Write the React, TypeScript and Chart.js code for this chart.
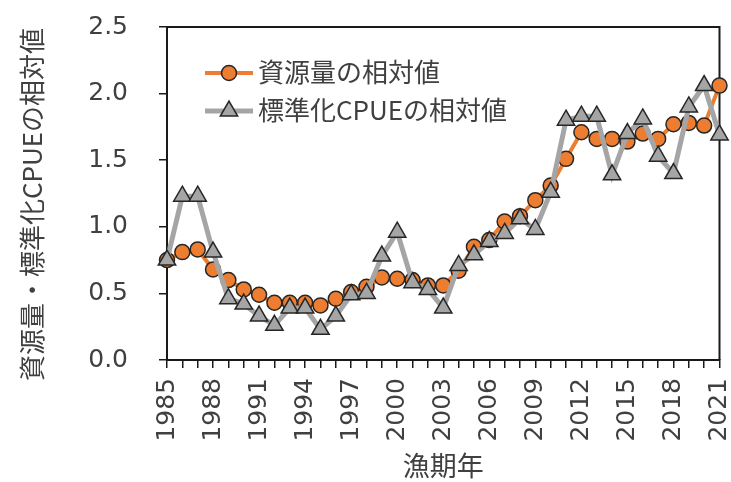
import React, { useEffect, useRef } from "react";
import { Chart, registerables } from "chart.js";

Chart.register(...registerables);

// ---- data ----
const years = [
  "1985", "1986", "1987", "1988", "1989", "1990", "1991", "1992", "1993", "1994",
  "1995", "1996", "1997", "1998", "1999", "2000", "2001", "2002", "2003", "2004",
  "2005", "2006", "2007", "2008", "2009", "2010", "2011", "2012", "2013", "2014",
  "2015", "2016", "2017", "2018", "2019", "2020", "2021",
];

const stockRelative = [
  0.75, 0.81, 0.83, 0.68, 0.60, 0.53, 0.49, 0.43, 0.43, 0.43,
  0.41, 0.46, 0.51, 0.55, 0.62, 0.61, 0.60, 0.56, 0.56, 0.67,
  0.85, 0.90, 1.04, 1.08, 1.20, 1.31, 1.51, 1.71, 1.66, 1.66,
  1.64, 1.70, 1.66, 1.77, 1.78, 1.76, 2.06,
];

const cpueRelative = [
  0.75, 1.23, 1.23, 0.81, 0.46, 0.42, 0.33, 0.26, 0.39, 0.39,
  0.23, 0.33, 0.49, 0.50, 0.78, 0.96, 0.58, 0.53, 0.39, 0.71,
  0.79, 0.89, 0.95, 1.06, 0.98, 1.26, 1.80, 1.83, 1.83, 1.39,
  1.70, 1.81, 1.53, 1.40, 1.90, 2.06, 1.69,
];

const seriesNames = ["資源量の相対値", "標準化CPUEの相対値"];
const xTitle = "漁期年";
const yTitle = "資源量・標準化CPUEの相対値";
const yMin = 0;
const yMax = 2.5;
const yStep = 0.5;
const xLabelEvery = 3;

// ---- styles ----
const TEXT = "#404040";
const AXIS = "#1a1a1a";
const ORANGE = "#ED7D31";
const GRAY = "#A5A5A5";
const NUM_FONT = "'DejaVu Sans', 'Noto Sans CJK JP', sans-serif";
const JP_FONT = "'Noto Sans CJK JP', sans-serif";

const framePlugin = {
  id: "frame",
  beforeDatasetsDraw(chart: any) {
    const { ctx, chartArea } = chart;
    ctx.save();
    ctx.strokeStyle = AXIS;
    ctx.lineWidth = 2;
    ctx.beginPath();
    ctx.moveTo(chartArea.left, chartArea.top);
    ctx.lineTo(chartArea.right, chartArea.top);
    ctx.lineTo(chartArea.right, chartArea.bottom);
    ctx.stroke();
    ctx.restore();
  },
};

const yTitlePlugin = {
  id: "yTitle",
  afterDraw(chart: any) {
    const { ctx, chartArea } = chart;
    ctx.save();
    ctx.translate(32, (chartArea.top + chartArea.bottom) / 2 + 11);
    ctx.rotate(-Math.PI / 2);
    ctx.fillStyle = TEXT;
    ctx.font = `26px ${JP_FONT}`;
    ctx.textAlign = "center";
    ctx.textBaseline = "middle";
    ctx.fillText(yTitle, 0, 0);
    ctx.restore();
  },
};

const legendPlugin = {
  id: "insideLegend",
  afterDraw(chart: any) {
    const { ctx, chartArea } = chart;
    const x0 = chartArea.left + 38;
    const x1 = chartArea.left + 86;
    const xm = (x0 + x1) / 2;
    const xt = chartArea.left + 91;
    chart.data.datasets.forEach((ds: any, i: number) => {
      const y = chartArea.top + 46 + i * 38;
      ctx.save();
      ctx.strokeStyle = ds.borderColor;
      ctx.lineWidth = ds.borderWidth;
      ctx.beginPath();
      ctx.moveTo(x0, y);
      ctx.lineTo(x1, y);
      ctx.stroke();
      ctx.fillStyle = ds.pointBackgroundColor;
      ctx.strokeStyle = ds.pointBorderColor;
      ctx.lineWidth = ds.pointBorderWidth;
      ctx.beginPath();
      const r = ds.pointRadius;
      if (ds.pointStyle === "triangle") {
        let rad = 0;
        ctx.moveTo(xm + Math.sin(rad) * r, y - Math.cos(rad) * r);
        rad += (2 * Math.PI) / 3;
        ctx.lineTo(xm + Math.sin(rad) * r, y - Math.cos(rad) * r);
        rad += (2 * Math.PI) / 3;
        ctx.lineTo(xm + Math.sin(rad) * r, y - Math.cos(rad) * r);
        ctx.closePath();
      } else {
        ctx.arc(xm, y, r, 0, Math.PI * 2);
      }
      ctx.fill();
      ctx.stroke();
      ctx.fillStyle = TEXT;
      ctx.font = `26px ${JP_FONT}`;
      ctx.textAlign = "left";
      ctx.textBaseline = "middle";
      ctx.fillText(ds.label, xt, y - 1);
      ctx.restore();
    });
  },
};

export default function App() {
  const ref = useRef<HTMLCanvasElement | null>(null);

  useEffect(() => {
    if (!ref.current) return;
    const chart = new Chart(ref.current, {
      type: "line",
      data: {
        labels: years,
        datasets: [
          {
            label: seriesNames[0],
            data: stockRelative,
            borderColor: ORANGE,
            borderWidth: 4,
            pointStyle: "circle",
            pointRadius: 7.5,
            pointBackgroundColor: ORANGE,
            pointBorderColor: "#262626",
            pointBorderWidth: 1.5,
            tension: 0,
            clip: false,
            order: 1,
          } as any,
          {
            label: seriesNames[1],
            data: cpueRelative,
            borderColor: GRAY,
            borderWidth: 5,
            pointStyle: "triangle",
            pointRadius: 10,
            pointBackgroundColor: GRAY,
            pointBorderColor: "#262626",
            pointBorderWidth: 1.5,
            tension: 0,
            clip: false,
            order: 0,
          } as any,
        ],
      },
      options: {
        animation: false,
        responsive: false,
        layout: { padding: { top: 27, right: 7, left: 0, bottom: 0 } },
        plugins: {
          legend: { display: false },
          tooltip: { enabled: false },
        },
        scales: {
          x: {
            type: "category",
            offset: false,
            grid: {
              display: true,
              drawOnChartArea: false,
              drawTicks: true,
              tickLength: 8,
              color: AXIS,
              lineWidth: 1.5,
            },
            border: { display: true, color: AXIS, width: 2 },
            ticks: {
              autoSkip: false,
              minRotation: 90,
              maxRotation: 90,
              padding: 10,
              color: TEXT,
              font: { family: NUM_FONT, size: 25 },
              callback: function (this: any, val: any, idx: number) {
                return idx % xLabelEvery === 0 ? this.getLabelForValue(val) : "";
              },
            },
            title: {
              display: true,
              text: xTitle,
              color: TEXT,
              font: { family: JP_FONT, size: 27 },
              padding: { top: 0, bottom: 0 },
            },
            afterFit: (scale: any) => {
              scale.height = 122;
              scale.paddingLeft = 0;
              scale.paddingRight = 0;
            },
          } as any,
          y: {
            min: yMin,
            max: yMax,
            grid: {
              display: true,
              drawOnChartArea: false,
              drawTicks: true,
              tickLength: 8,
              color: AXIS,
              lineWidth: 1.5,
            },
            border: { display: true, color: AXIS, width: 2 },
            ticks: {
              stepSize: yStep,
              padding: 31,
              color: TEXT,
              font: { family: NUM_FONT, size: 25 },
              callback: (v: any) => Number(v).toFixed(1),
            },
            title: { display: false },
            afterFit: (scale: any) => {
              scale.width = 167;
              scale.paddingTop = 0;
              scale.paddingBottom = 0;
            },
          } as any,
        },
      },
      plugins: [framePlugin, legendPlugin, yTitlePlugin],
    });
    return () => chart.destroy();
  }, []);

  return (
    <div style={{ position: "fixed", left: 0, top: 0, width: 731, height: 482, background: "#fff" }}>
      <canvas ref={ref} width={731} height={482} style={{ display: "block" }} />
    </div>
  );
}
